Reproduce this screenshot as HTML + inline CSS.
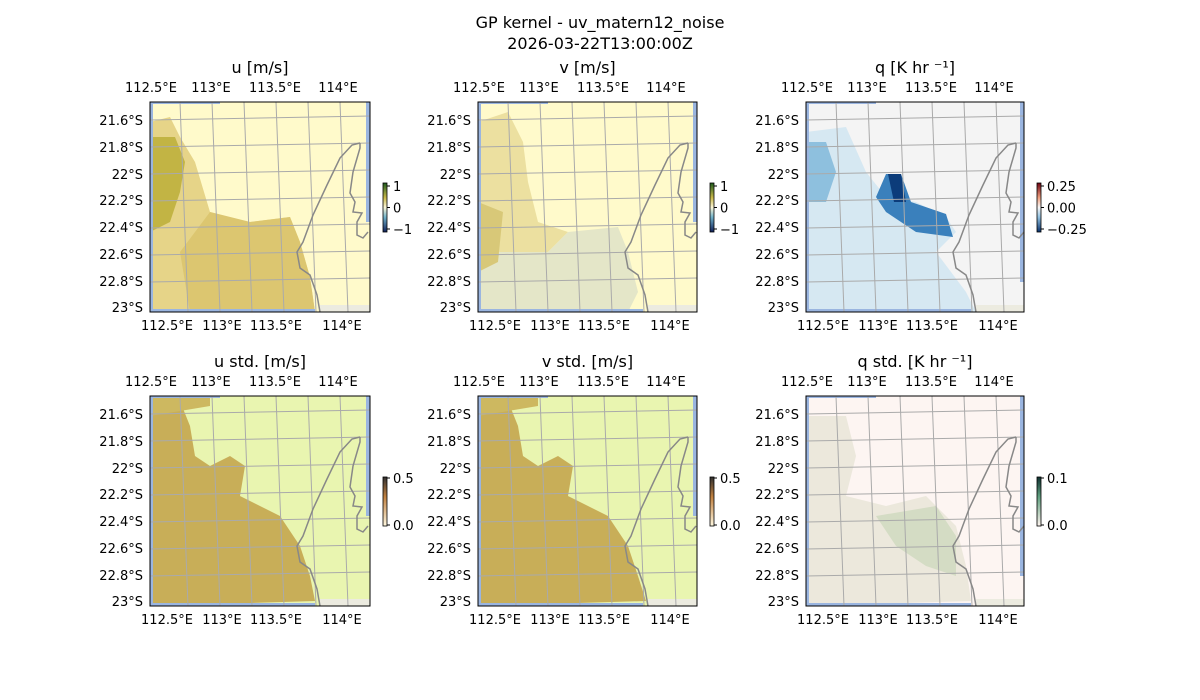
<!DOCTYPE html>
<html><head><meta charset="utf-8"><style>
html,body{margin:0;padding:0;background:#fff;width:1200px;height:700px;overflow:hidden}
text{font-family:"DejaVu Sans","Liberation Sans",sans-serif;fill:#000}
</style></head><body>
<svg id="s" width="1200" height="700" xmlns="http://www.w3.org/2000/svg">
<defs>
<linearGradient id="cuv" x1="0" y1="0" x2="0" y2="1"><stop offset="0" stop-color="#1d5a1d"/><stop offset="0.3" stop-color="#c8b84a"/><stop offset="0.5" stop-color="#fbf6d8"/><stop offset="0.7" stop-color="#6fb0c8"/><stop offset="1" stop-color="#10205a"/></linearGradient>
<linearGradient id="cq" x1="0" y1="0" x2="0" y2="1"><stop offset="0" stop-color="#6b0010"/><stop offset="0.3" stop-color="#f0a080"/><stop offset="0.5" stop-color="#f7f7f7"/><stop offset="0.7" stop-color="#90c0e0"/><stop offset="1" stop-color="#08306b"/></linearGradient>
<linearGradient id="cs" x1="0" y1="0" x2="0" y2="1"><stop offset="0" stop-color="#303030"/><stop offset="0.4" stop-color="#c08040"/><stop offset="1" stop-color="#fff8e0"/></linearGradient>
<linearGradient id="cqs" x1="0" y1="0" x2="0" y2="1"><stop offset="0" stop-color="#103030"/><stop offset="0.4" stop-color="#60a080"/><stop offset="1" stop-color="#fff5f0"/></linearGradient>
</defs>
<text x="600" y="28" font-size="16" text-anchor="middle">GP kernel - uv_matern12_noise</text>
<text x="600" y="49" font-size="16" text-anchor="middle">2026-03-22T13:00:00Z</text>
</svg>
<script>
var s=document.getElementById('s'),h='';
var coast="M210,41 L202,43 L190,56 L177,83 L163,113 L153,140 L147,150 L150,166 L160,173 L167,193 L170,210 M210,41 L210,46 L203,70 L200,91 L205,100 L203,110 L212,111 L207,120 L207,133 L213,136 L218,130";
var P=[
 {x:150,y:102,w:220,t:"u [m/s]",bg:"#fffacb",cb:"cuv",ct:["1","0","−1"]},
 {x:478,y:102,w:219,t:"v [m/s]",bg:"#fffacb",cb:"cuv",ct:["1","0","−1"]},
 {x:806,y:102,w:218,t:"q [K hr ⁻¹]",bg:"#f4f4f4",cb:"cq",ct:["0.25","0.00","−0.25"]},
 {x:150,y:396,w:220,t:"u std. [m/s]",bg:"#e9f5b0",cb:"cs",ct:["0.5","0.0"]},
 {x:478,y:396,w:219,t:"v std. [m/s]",bg:"#e9f5b0",cb:"cs",ct:["0.5","0.0"]},
 {x:806,y:396,w:218,t:"q std. [K hr ⁻¹]",bg:"#fdf5f2",cb:"cqs",ct:["0.1","0.0"]}];
var blobs=[
 '<polygon points="0,20 20,15 30,35 45,60 60,110 100,120 140,115 150,140 160,175 165,210 0,210" fill="#e6d488"/><polygon points="60,110 100,120 140,115 150,140 160,175 165,210 40,210 30,150" fill="#dcc670"/><polygon points="0,35 25,35 35,60 30,90 20,120 0,130" fill="#c2b444"/>',
 '<polygon points="0,20 30,10 45,40 50,80 60,120 90,130 70,150 20,150 0,160" fill="#ece0a0"/><polygon points="0,160 20,150 70,150 90,130 140,125 150,150 160,190 150,210 0,210" fill="#e4e6c8"/><polygon points="0,100 25,110 20,160 0,170" fill="#d8c878"/>',
 '<polygon points="0,30 40,25 60,70 80,95 110,100 140,115 150,130 130,150 160,190 170,210 0,210" fill="#d6e8f2"/><polygon points="0,40 20,40 30,70 20,100 0,100" fill="#8ec0de"/><polygon points="80,72 95,72 105,100 140,112 147,135 110,130 80,110 70,95" fill="#3a80bc"/><polygon points="82,72 95,72 100,100 88,100" fill="#0c3c7a"/>',
 '<polygon points="0,10 30,5 40,30 45,60 60,70 80,60 95,70 90,100 110,110 130,120 150,150 160,180 165,205 0,210" fill="#c8ae58"/><polygon points="0,0 60,0 60,10 0,20" fill="#cdb860"/>',
 '<polygon points="0,10 30,5 40,30 45,60 60,70 80,60 95,70 90,100 110,110 130,120 150,150 160,180 168,205 0,210" fill="#c8ae58"/><polygon points="0,0 60,0 60,10 0,20" fill="#cdb860"/>',
 '<polygon points="0,20 40,20 50,60 40,100 80,110 120,100 150,130 160,170 165,205 0,210" fill="#ece8dc"/><polygon points="70,120 130,110 150,140 150,180 120,170 90,150" fill="#d4dcc4"/>'];
var lat=["21.6°S","21.8°S","22°S","22.2°S","22.4°S","22.6°S","22.8°S","23°S"],ly=[18,45,72,98,125,152,179,205];
P.forEach(function(p,i){
 var w=p.w,H=210;
 h+='<g transform="translate('+p.x+','+p.y+')">';
 h+='<rect width="'+w+'" height="'+H+'" fill="'+p.bg+'"/>'+blobs[i];
 h+='<rect x="0" y="0" width="3" height="'+H+'" fill="#9ab5e0"/><rect x="0" y="0" width="70" height="2" fill="#9ab5e0"/><rect x="'+(w-4)+'" y="0" width="4" height="'+(i%3==2?180:120)+'" fill="#9ab5e0"/><rect x="170" y="'+(H-7)+'" width="'+(w-170)+'" height="7" fill="#ecebe0"/><rect x="0" y="'+(H-3)+'" width="165" height="3" fill="#9ab5e0"/>';
 for(var k=0;k<6;k++){var xt=30+k*32;h+='<line x1="'+xt+'" y1="0" x2="'+(xt+8)+'" y2="'+H+'" stroke="#aaa" stroke-width="1"/>';}
 for(var k=0;k<7;k++){var yl=18+k*27;h+='<line x1="0" y1="'+yl+'" x2="'+w+'" y2="'+(yl-4)+'" stroke="#aaa" stroke-width="1"/>';}
 h+='<path d="'+coast+'" fill="none" stroke="#888" stroke-width="1.5"/>';
 h+='<rect width="'+w+'" height="'+H+'" fill="none" stroke="#000" stroke-width="1"/>';
 h+='<text x="'+(w/2)+'" y="-29" font-size="16" text-anchor="middle">'+p.t+'</text>';
 [["112.5°E",1,17],["113°E",61,72],["113.5°E",125,126],["114°E",188,192]].forEach(function(a){
  h+='<text x="'+a[1]+'" y="-10" font-size="13" text-anchor="middle">'+a[0]+'</text><text x="'+a[2]+'" y="228" font-size="13" text-anchor="middle">'+a[0]+'</text>';});
 lat.forEach(function(l,k){h+='<text x="-7" y="'+(ly[k]+5)+'" font-size="13" text-anchor="end">'+l+'</text>';});
 var cx=w+13,cy=81,ch=49;
 h+='<rect x="'+cx+'" y="'+cy+'" width="4" height="'+ch+'" fill="url(#'+p.cb+')" stroke="#000" stroke-width="0.8"/>';
 var n=p.ct.length;
 p.ct.forEach(function(t,k){var yy=n==3?cy+[3,24.5,46][k]:cy+[1,48][k];
  h+='<line x1="'+(cx+4)+'" y1="'+yy+'" x2="'+(cx+7)+'" y2="'+yy+'" stroke="#000"/><text x="'+(cx+10)+'" y="'+(yy+5)+'" font-size="13">'+t+'</text>';});
 h+='</g>';
});
s.insertAdjacentHTML('beforeend',h);
</script>
</body></html>
